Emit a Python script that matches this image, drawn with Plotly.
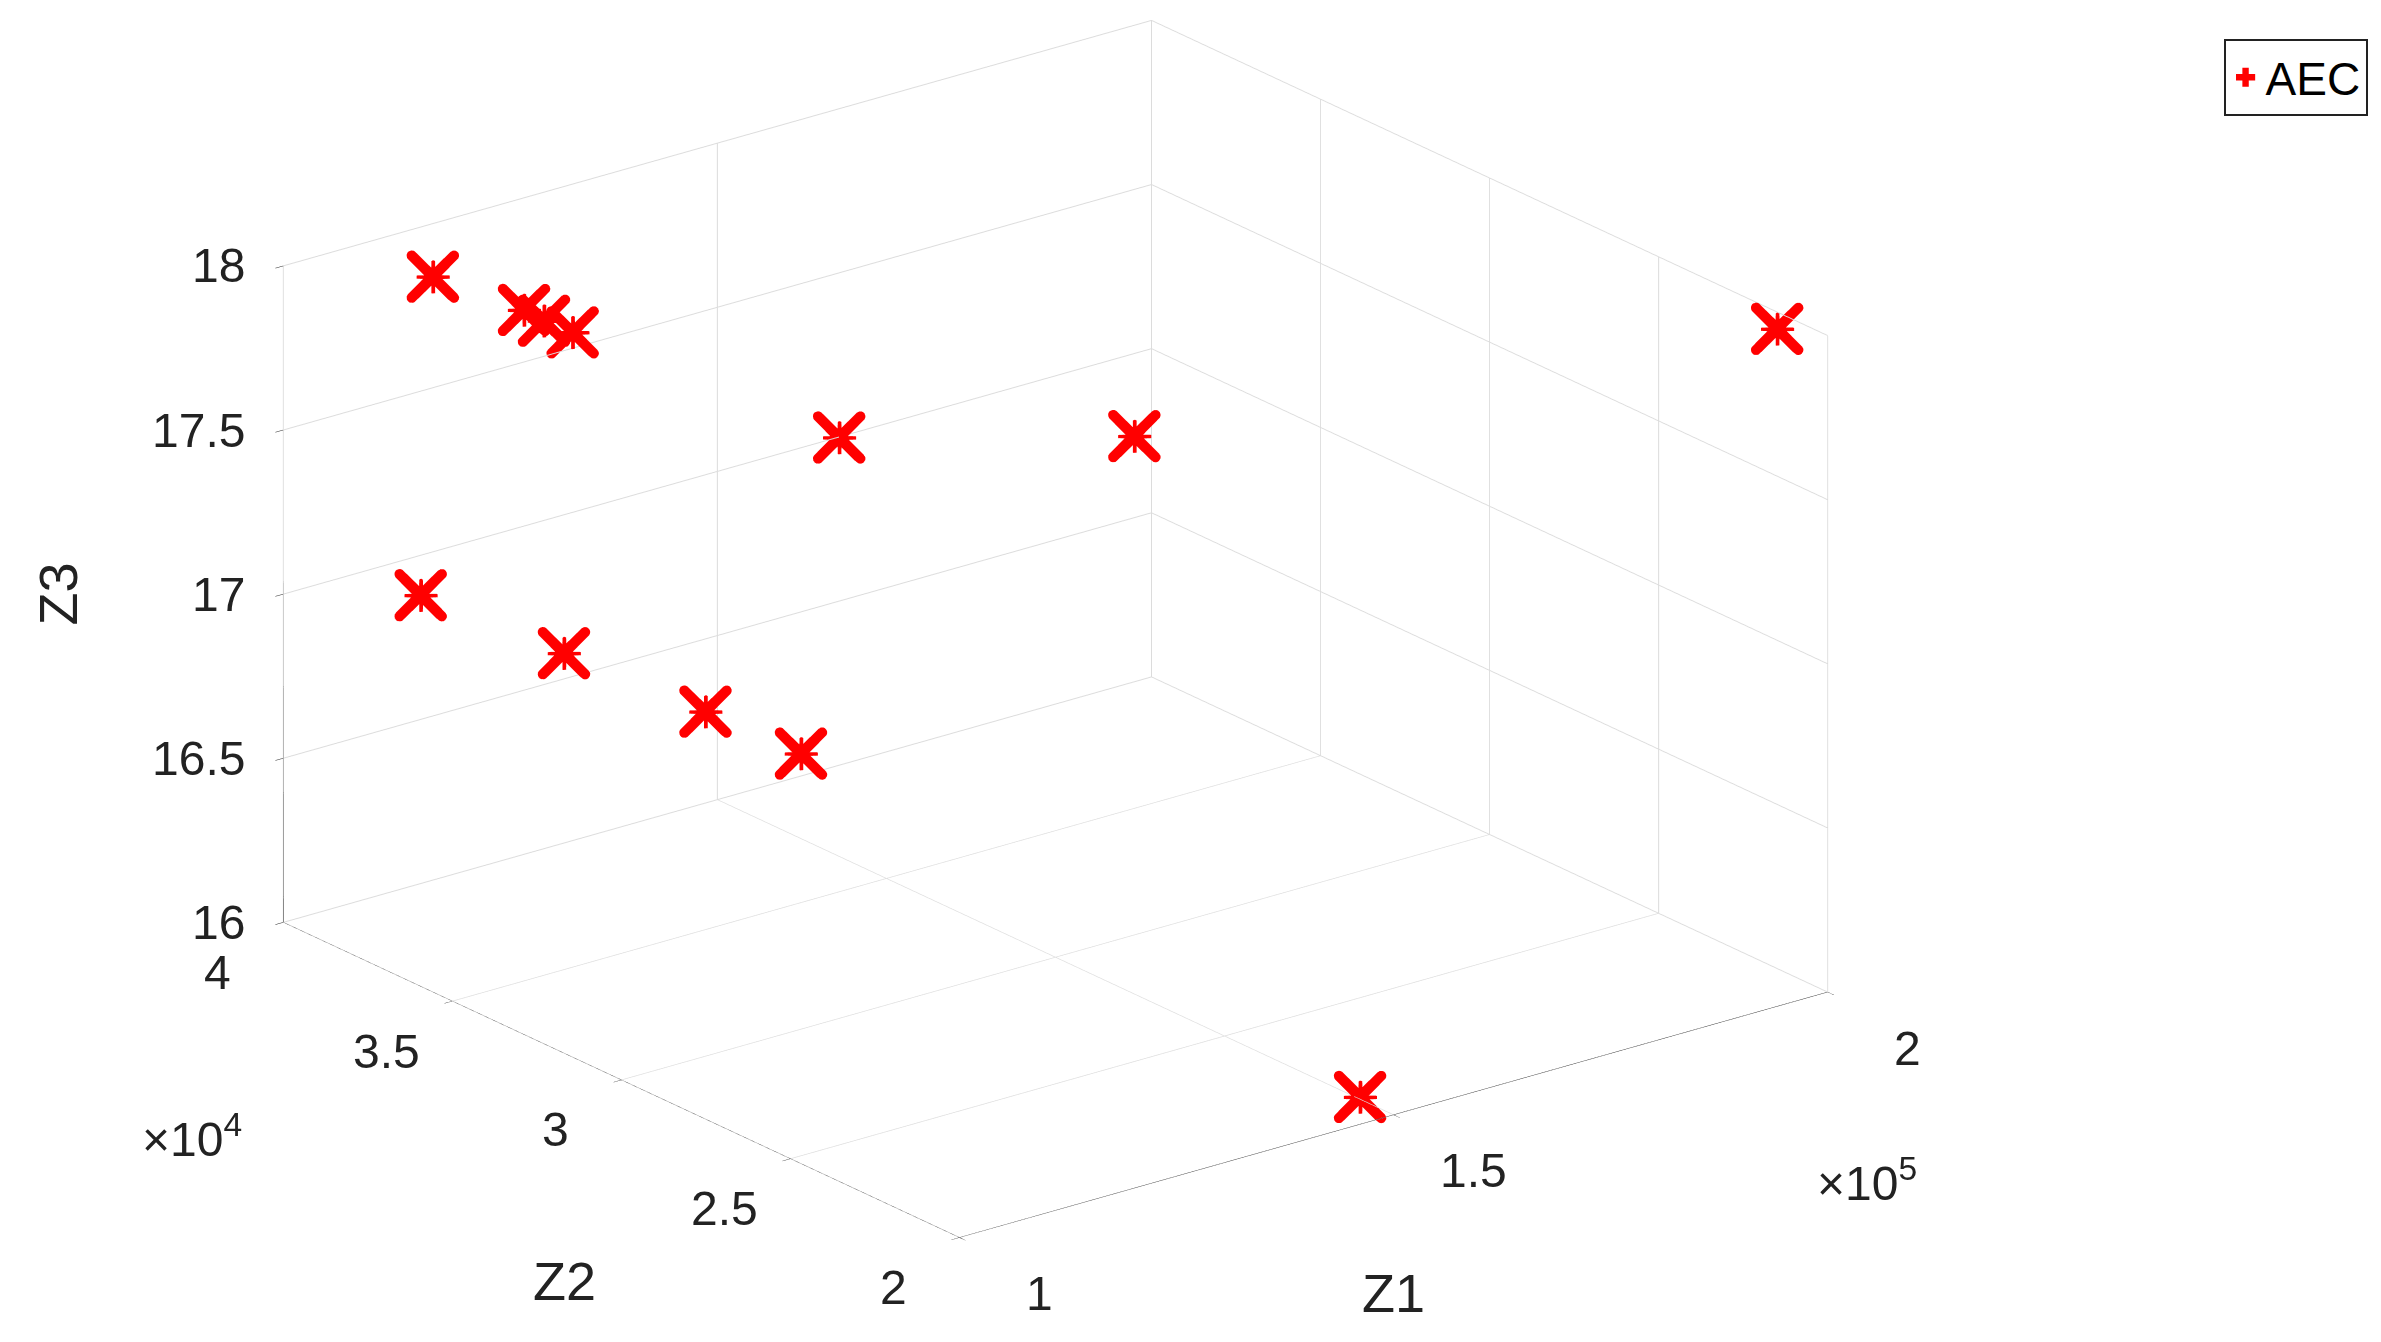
import plotly.graph_objects as go

z1 = [1.172e5, 1.277e5, 1.30e5, 1.333e5, 1.64e5, 1.98e5, 2.0e5, 1.158e5, 1.323e5, 1.486e5, 1.596e5, 1.504e5]
z2 = [4.0e4, 4.0e4, 4.0e4, 4.0e4, 4.0e4, 4.0e4, 2.15e4, 4.0e4, 4.0e4, 4.0e4, 4.0e4, 2.11e4]
z3 = [17.84, 17.66, 17.61, 17.55, 17.0, 16.75, 17.95, 16.88, 16.58, 16.28, 16.07, 16.0]

z1_ticks = [1e5, 1.5e5, 2e5]; z1_text = ["1", "1.5", "2"]
z2_ticks = [2e4, 2.5e4, 3e4, 3.5e4, 4e4]; z2_text = ["2", "2.5", "3", "3.5", "4"]
z3_ticks = [16, 16.5, 17, 17.5, 18]; z3_text = ["16", "16.5", "17", "17.5", "18"]

fig = go.Figure()
fig.add_trace(go.Scatter3d(x=z1, y=z2, z=z3, mode="markers", name="AEC",
                           marker=dict(symbol="cross", size=18, color="red",
                                       line=dict(width=0))))
fig.add_trace(go.Scatter3d(x=z1, y=z2, z=z3, mode="markers", showlegend=False,
                           marker=dict(symbol="x", size=12, color="red",
                                       line=dict(width=0))))

def ax(rng, tv):
    return dict(showbackground=False, gridcolor="#dcdcdc", linecolor="#222", showline=True,
                zeroline=False, range=rng, tickvals=tv, ticks="outside", tickcolor="#222",
                ticklen=10, showspikes=False, showticklabels=False, title=dict(text=""))

TF = dict(size=48, family="Liberation Sans", color="#222")
LF = dict(size=54, family="Liberation Sans", color="#222")
ann = []
for v, t in zip(z3_ticks, z3_text):
    ann.append(dict(x=1e5, y=4e4, z=v, text=t, showarrow=False, xanchor="right",
                    xshift=-36, font=TF))
for v, t in zip(z2_ticks, z2_text):
    ann.append(dict(x=1e5, y=v, z=16, text=t, showarrow=False, xanchor="center",
                    xshift=-66, yshift=-50, font=TF))
for v, t in zip(z1_ticks, z1_text):
    ann.append(dict(x=min(v, 1.999e5), y=2e4, z=16, text=t, showarrow=False, xanchor="center",
                    xshift=80, yshift=-56, font=TF))
ann += [
    dict(x=1e5, y=4e4, z=17, text="Z3", showarrow=False, textangle=-90, xshift=-225, font=LF),
    dict(x=1e5, y=2e4, z=16, text="Z2", showarrow=False, xshift=-395, yshift=-43, font=LF),
    dict(x=1.5e5, y=2e4, z=16, text="Z1", showarrow=False, yshift=-178, font=LF),
    dict(x=1e5, y=3.5e4, z=16, text="×10<sup>4</sup>", showarrow=False,
         xshift=-260, yshift=-135, font=TF),
    dict(x=1.999e5, y=2e4, z=16, text="×10<sup>5</sup>", showarrow=False,
         xshift=40, yshift=-188, font=TF),
]

fig.update_layout(
    width=2381, height=1342, paper_bgcolor="white",
    font=dict(family="Liberation Sans"),
    margin=dict(l=0, r=0, t=0, b=0),
    legend=dict(x=0.991, y=0.977, xanchor="right", yanchor="top", bordercolor="#222",
                borderwidth=2, font=dict(size=46, color="#000")),
    scene=dict(
        domain=dict(x=[0.0, 0.88], y=[0.0, 1.0]),
        xaxis=ax([1e5, 2e5], z1_ticks),
        yaxis=ax([2e4, 4e4], z2_ticks),
        zaxis=ax([16, 18], z3_ticks),
        aspectmode="manual", aspectratio=dict(x=1.64, y=1.64, z=1.05),
        camera=dict(eye=dict(x=-0.757, y=-0.972, z=0.40), center=dict(x=0, y=0, z=-0.08),
                    projection=dict(type="orthographic")),
        annotations=ann,
    ),
)
fig.write_html("out.html")
